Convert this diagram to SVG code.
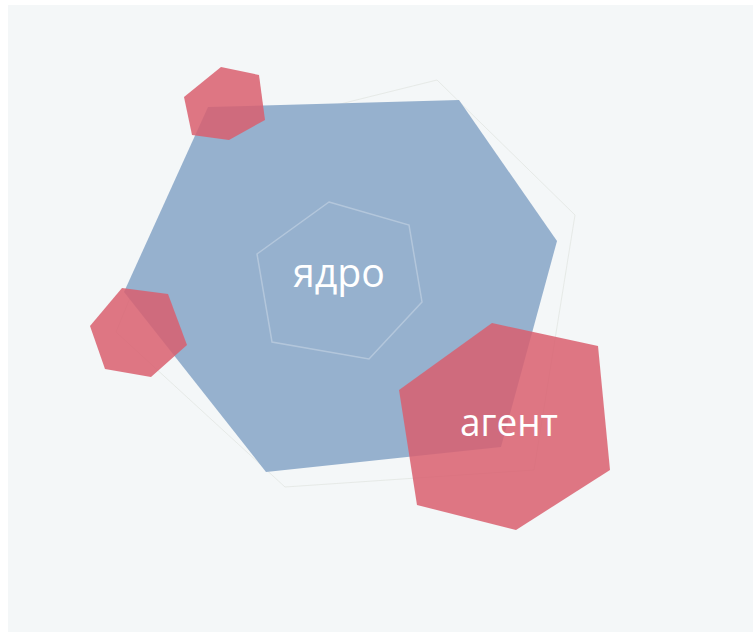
<svg xmlns="http://www.w3.org/2000/svg" width="753" height="632" viewBox="0 0 753 632">
  <style>
    .bg { fill: #f4f7f8; }
    .outline { fill: none; stroke: #e2e6e2; stroke-opacity: 0.8; stroke-width: 1; }
    .core { fill: #96b1ce; }
    .inner { fill: none; stroke: #ffffff; stroke-opacity: 0.28; stroke-width: 1.5; }
    .red { fill: #d95f6e; fill-opacity: 0.85; }
    .label { fill: #ffffff; font-family: "Open Sans", "Noto Sans", "DejaVu Sans", sans-serif; text-anchor: middle; }
  </style>
  <rect class="bg" x="8" y="5" width="745" height="627"/>
  <g id="connectors"/>
  <g id="core">
    <polygon class="outline" points="437,80 575,215 534,470 285,487 116,332 195,140"/>
    <polygon class="core" points="208,107 459,100 557,241 501,447 266,472 124,292"/>
    <polygon class="inner" points="329,202 409,225 422,302 369,359 272,342 257,254"/>
    <text class="label" x="339" y="287" font-size="41" textLength="92" lengthAdjust="spacingAndGlyphs">ядро</text>
  </g>
  <g id="satellite-top">
    <polygon class="red" points="221,67 259,75 265,120 229,140 192,135 184,97"/>
  </g>
  <g id="satellite-left">
    <polygon class="red" points="122,288 168,294 187,345 151,377 105,369 90,326"/>
  </g>
  <g id="agent">
    <polygon class="red" points="399,390 492,323 598,346 610,470 516,530 417,505"/>
    <text class="label" x="509" y="436" font-size="39" textLength="98" lengthAdjust="spacingAndGlyphs">агент</text>
  </g>
</svg>
